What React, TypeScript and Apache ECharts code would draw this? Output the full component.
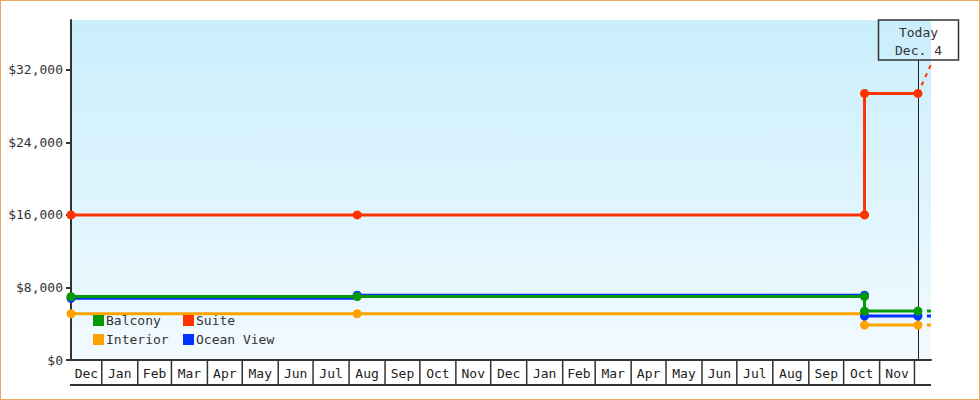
import React, { useEffect, useRef } from "react";
import * as echarts from "echarts";

// ---- data ----
const pointDates = ["2011-12-05 12:00", "2012-08-08", "2013-10-19", "2013-10-19", "2013-12-04"];
const balcony = [7000, 7000, 7000, 5400, 5400];
const suite = [16000, 16000, 16000, 29400, 29400];
const interior = [5100, 5100, 5100, 3850, 3850];
const oceanView = [6800, 7150, 7150, 4850, 4850];

const projDates = ["2013-12-04", "2013-12-15 06:00"];
const balconyProj = [5400, 5400];
const suiteProj = [29400, 32600];
const interiorProj = [3850, 3850];
const oceanViewProj = [4850, 4850];

const yTicks = [0, 8000, 16000, 24000, 32000];
const Y_MAX = 37500;
const X_MIN = "2011-12-05 12:00";
const X_MAX = "2013-12-15 06:00";
const TODAY = "2013-12-04";
const todayLines = ["Today", "Dec. 4"];

const firstMonth = { year: 2011, month: 11 }; // December 2011
const monthLabels = [
  "Dec", "Jan", "Feb", "Mar", "Apr", "May", "Jun", "Jul", "Aug", "Sep", "Oct", "Nov",
  "Dec", "Jan", "Feb", "Mar", "Apr", "May", "Jun", "Jul", "Aug", "Sep", "Oct", "Nov", "",
];

const FONT = '"DejaVu Sans Mono", monospace';
const COLORS = { balcony: "#079a07", suite: "#ff3300", interior: "#ffa200", ocean: "#0033ff" };

function ts(s: string) {
  const [d, t] = s.split(" ");
  const [y, m, dd] = d.split("-").map(Number);
  let h = 0, mi = 0;
  if (t) [h, mi] = t.split(":").map(Number);
  return new Date(y, m - 1, dd, h, mi).getTime();
}

const xMin = ts(X_MIN);
const xMax = ts(X_MAX);
const monthCells = monthLabels.map((label, i) => {
  const s = new Date(firstMonth.year, firstMonth.month + i, 1).getTime();
  const e = new Date(firstMonth.year, firstMonth.month + i + 1, 1).getTime();
  return { label, start: Math.max(s, xMin), end: Math.min(e, xMax) };
});

function pairs(dates: string[], vals: number[]) {
  return dates.map((d, i) => [ts(d), vals[i]]);
}

export default function App() {
  const ref = useRef<HTMLDivElement>(null);
  useEffect(() => {
    if (!ref.current) return;
    const chart = echarts.init(ref.current, null, { renderer: "svg" });
    const lineSeries = (name: string, color: string, dates: string[], vals: number[]) => ({
      name,
      type: "line",
      step: "end",
      data: pairs(dates, vals),
      symbol: "circle",
      symbolSize: 9,
      lineStyle: { color, width: 3 },
      itemStyle: { color },
      z: 3,
    });
    const projSeries = (name: string, color: string, vals: number[], width: number) => ({
      name,
      type: "line",
      data: pairs(projDates, vals),
      symbol: "none",
      lineStyle: { color, width, type: [4, 5] },
      itemStyle: { color },
      z: 2,
    });
    const legendCommon = {
      orient: "vertical",
      icon: "rect",
      itemWidth: 11,
      itemHeight: 11,
      itemGap: 6,
      top: 314,
      padding: 0,
      textStyle: { fontFamily: FONT, fontSize: 13, color: "#333", padding: [0, 0, 0, -3] },
      selectedMode: false,
    };
    chart.setOption({
      animation: false,
      grid: {
        left: 71,
        right: 49,
        top: 20,
        bottom: 40,
        show: true,
        borderWidth: 0,
        backgroundColor: new echarts.graphic.LinearGradient(0, 0, 0, 1, [
          { offset: 0, color: "#c9eefc" },
          { offset: 1, color: "#f2faff" },
        ]),
      },
      legend: [
        { ...legendCommon, left: 93, data: ["Balcony", "Interior"] },
        { ...legendCommon, left: 183, data: ["Suite", "Ocean View"] },
      ],
      xAxis: {
        type: "time",
        min: xMin,
        max: xMax,
        axisLine: { show: true, lineStyle: { color: "#333", width: 2 } },
        axisTick: { show: false },
        axisLabel: { show: false },
        splitLine: { show: false },
      },
      yAxis: {
        type: "value",
        min: 0,
        max: Y_MAX,
        interval: 8000,
        axisLine: { show: true, lineStyle: { color: "#333", width: 2 } },
        axisTick: { show: true, length: 5, lineStyle: { color: "#333", width: 2 }, customValues: yTicks },
        axisLabel: {
          customValues: yTicks,
          margin: 8,
          fontFamily: FONT,
          fontSize: 13,
          color: "#333",
          formatter: (v: number) => "$" + v.toLocaleString("en-US"),
        },
        splitLine: { show: false },
      },
      series: [
        {
          type: "custom",
          name: "months",
          clip: false,
          silent: true,
          z: 1,
          encode: { x: [0, 1], y: 2 },
          data: monthCells.map((c) => [c.start, c.end, 0]),
          renderItem: (params: any, api: any) => {
            const p0 = api.coord([api.value(0), 0]);
            const p1 = api.coord([api.value(1), 0]);
            const y = p0[1];
            const cell = monthCells[params.dataIndex];
            const isLast = params.dataIndex === monthCells.length - 1;
            const children: any[] = [
              { type: "line", shape: { x1: p0[0] - 1, y1: y + 25, x2: p1[0], y2: y + 25 }, style: { stroke: "#333", lineWidth: 2 } },
              {
                type: "text",
                x: (p0[0] + p1[0]) / 2,
                y: y + 13,
                style: { text: cell.label, align: "center", verticalAlign: "middle", font: `13px ${FONT}`, fill: "#222" },
              },
            ];
            if (!isLast) {
              children.push({ type: "line", shape: { x1: p1[0], y1: y, x2: p1[0], y2: y + 25 }, style: { stroke: "#333", lineWidth: 1.5 } });
            }
            return { type: "group", children };
          },
        },
        {
          type: "custom",
          name: "today",
          clip: false,
          silent: true,
          z: 1,
          encode: { x: 0, y: 1 },
          data: [[ts(TODAY), 0]],
          renderItem: (params: any, api: any) => {
            const top = api.coord([api.value(0), Y_MAX]);
            const bottom = api.coord([api.value(0), 0]);
            const x = Math.round(top[0]) + 0.5;
            return {
              type: "group",
              children: [
                { type: "line", shape: { x1: x, y1: top[1] + 40, x2: x, y2: bottom[1] }, style: { stroke: "#222", lineWidth: 1 } },
                { type: "rect", shape: { x: x - 40, y: top[1], width: 80, height: 40 }, style: { fill: "none", stroke: "#333", lineWidth: 1.5 } },
                { type: "text", x, y: top[1] + 12, style: { text: todayLines[0], align: "center", verticalAlign: "middle", font: `13px ${FONT}`, fill: "#333" } },
                { type: "text", x, y: top[1] + 30, style: { text: todayLines[1], align: "center", verticalAlign: "middle", font: `13px ${FONT}`, fill: "#333" } },
              ],
            };
          },
        },
        lineSeries("Interior", COLORS.interior, pointDates, interior),
        lineSeries("Ocean View", COLORS.ocean, pointDates, oceanView),
        lineSeries("Balcony", COLORS.balcony, pointDates, balcony),
        lineSeries("Suite", COLORS.suite, pointDates, suite),
        projSeries("Interior proj", COLORS.interior, interiorProj, 3),
        projSeries("Ocean View proj", COLORS.ocean, oceanViewProj, 3),
        projSeries("Balcony proj", COLORS.balcony, balconyProj, 3),
        projSeries("Suite proj", COLORS.suite, suiteProj, 2),
      ],
    });
    return () => chart.dispose();
  }, []);
  return (
    <div style={{ position: "absolute", left: 0, top: 0, width: 980, height: 400 }}>
      <div
        style={{
          position: "absolute",
          left: 0,
          top: 0,
          width: 980,
          height: 400,
          boxSizing: "border-box",
          border: "1px solid #eaa862",
        }}
      />
      <div ref={ref} style={{ position: "absolute", left: 0, top: 0, width: 980, height: 400 }} />
    </div>
  );
}
